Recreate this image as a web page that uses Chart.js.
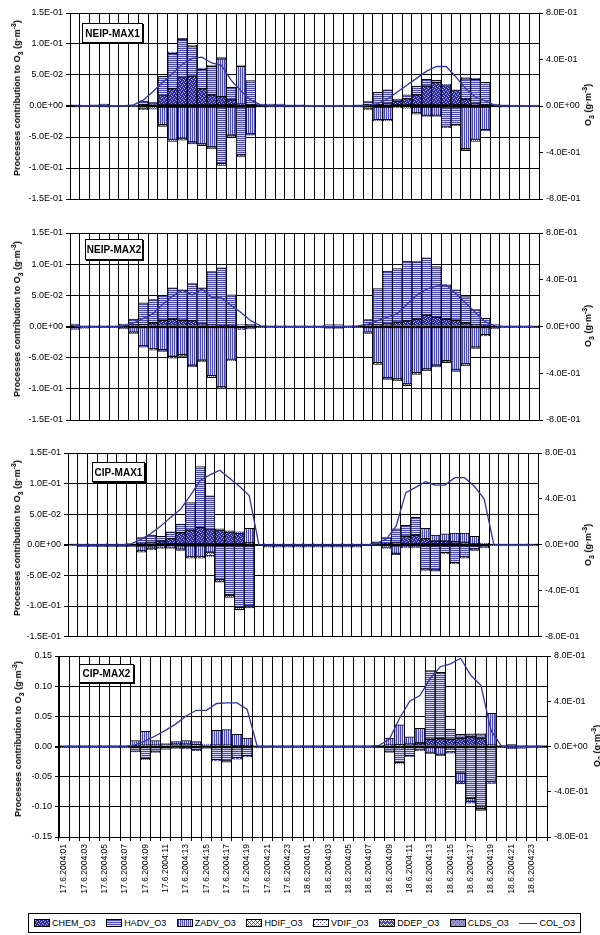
<!DOCTYPE html>
<html>
<head>
<meta charset="utf-8">
<title>O3 process contributions</title>
<script src="https://cdn.jsdelivr.net/npm/chart.js@4.4.0/dist/chart.umd.min.js"></script>
<style>
    body { margin: 0; background: #fff; font-family: 'Liberation Sans', Arial, sans-serif; }
    #wrap { position: relative; width: 600px; height: 935px; overflow: hidden; }
    #wrap canvas { position: absolute; left: 0; }
    .tag {
        position: absolute; background: #fff; border: 1px solid #000; box-shadow: 1px 1px 0 #000;
        font: bold 10px 'Liberation Sans', Arial, sans-serif;
        display: flex; align-items: center; justify-content: center; box-sizing: border-box;
    }
    .ytitle {
        position: absolute; transform: translate(-50%, -50%) rotate(-90deg);
        white-space: nowrap; font: bold 9px 'Liberation Sans', Arial, sans-serif; line-height: 10px;
    }
    .ytitle sub, .ytitle sup { font-size: 7px; line-height: 0; }
    #legend {
        position: absolute; left: 28px; top: 913px; width: 553px; height: 20px; box-sizing: border-box;
        border: 1px solid #000; background: #fff; padding: 0 5px;
        display: flex; align-items: center; justify-content: space-between;
        font: 9px 'Liberation Sans', Arial, sans-serif;
    }
    .item { display: flex; align-items: center; white-space: nowrap; }
    .sw { width: 16px; height: 8px; border: 1px solid #000; box-sizing: border-box; margin-right: 2px; image-rendering: pixelated; }
    .ln { width: 18px; height: 0; border-top: 1.5px solid #3535a5; margin-right: 2px; }
</style>
</head>
<body>
<div id="wrap"></div>
<script>
const hours = [
    '17.6.2004:01', '17.6.2004:02', '17.6.2004:03', '17.6.2004:04', '17.6.2004:05', '17.6.2004:06',
    '17.6.2004:07', '17.6.2004:08', '17.6.2004:09', '17.6.2004:10', '17.6.2004:11', '17.6.2004:12',
    '17.6.2004:13', '17.6.2004:14', '17.6.2004:15', '17.6.2004:16', '17.6.2004:17', '17.6.2004:18',
    '17.6.2004:19', '17.6.2004:20', '17.6.2004:21', '17.6.2004:22', '17.6.2004:23', '18.6.2004:00',
    '18.6.2004:01', '18.6.2004:02', '18.6.2004:03', '18.6.2004:04', '18.6.2004:05', '18.6.2004:06',
    '18.6.2004:07', '18.6.2004:08', '18.6.2004:09', '18.6.2004:10', '18.6.2004:11', '18.6.2004:12',
    '18.6.2004:13', '18.6.2004:14', '18.6.2004:15', '18.6.2004:16', '18.6.2004:17', '18.6.2004:18',
    '18.6.2004:19', '18.6.2004:20', '18.6.2004:21', '18.6.2004:22', '18.6.2004:23', '19.6.2004:00'
];

const seriesNames = ['CHEM_O3', 'HADV_O3', 'ZADV_O3', 'HDIF_O3', 'VDIF_O3', 'DDEP_O3', 'CLDS_O3'];
const lineName = 'COL_O3';
const leftTicks = [-0.15, -0.10, -0.05, 0, 0.05, 0.10, 0.15];
const rightTicks = [-0.8, -0.4, 0, 0.4, 0.8];

// NEIP-MAX1
const neip1Chem = [0, 0, 0.001, 0.001, 0, 0, 0, 0.002, 0.004, 0.017, 0.028, 0.046,
    0.048, 0.028, 0.018, 0.015, 0.010, 0.003, 0, 0.001, 0, 0, 0, 0,
    0, 0, 0, 0, 0, 0, 0.002, 0.002, 0.004, 0.008, 0.012, 0.018,
    0.032, 0.038, 0.033, 0.026, 0.011, 0.004, 0.002, 0.001, 0, 0, 0, 0];
const neip1Hadv = [0.002, 0.001, 0.001, 0.002, 0.001, 0.001, 0.001, 0.006, 0.002, 0.031, 0.057, 0.061,
    0.048, 0.031, 0.046, -0.093, 0.020, -0.079, 0.041, 0.002, 0.003, 0.003, 0.002, 0.002,
    0.001, 0.001, 0.001, 0.001, 0.001, 0.002, 0.005, 0.020, 0.022, 0.003, 0.006, 0.014,
    0.011, 0.004, -0.033, -0.030, 0.033, 0.039, 0.036, 0.002, 0.002, 0.001, 0.001, 0.001];
const neip1Zadv = [-0.002, -0.001, -0.001, -0.002, -0.001, -0.001, -0.001, -0.004, -0.003, -0.030, -0.054, -0.052,
    -0.058, -0.061, -0.066, 0.061, -0.047, 0.061, -0.045, -0.002, -0.002, -0.002, -0.002, -0.001,
    -0.001, -0.001, -0.001, -0.001, -0.001, -0.002, -0.004, -0.022, -0.022, -0.002, -0.003, -0.011,
    -0.015, -0.015, 0.002, 0, -0.069, -0.054, -0.038, -0.002, -0.002, -0.001, -0.001, -0.001];
const neip1Hdif = [0, 0, 0, 0, 0, 0, 0, 0, 0, 0, 0, 0,
    0, 0, 0, 0, 0, 0, 0, 0, 0, 0, 0, 0,
    0, 0, 0, 0, 0, 0, 0, 0, 0, 0, 0, 0,
    0, 0, 0, 0, 0, 0, 0, 0, 0, 0, 0, 0];
const neip1Vdif = [0, 0, 0, 0, 0, 0, 0, 0, 0, 0, 0, 0,
    0, 0, 0, 0, 0, 0, 0, 0, 0, 0, 0, 0,
    0, 0, 0, 0, 0, 0, 0, 0, 0, 0, 0, 0,
    0, 0, 0, 0, 0, 0, 0, 0, 0, 0, 0, 0];
const neip1Ddep = [0, 0, 0, 0, 0, 0, 0, -0.002, -0.002, -0.003, -0.003, -0.003,
    -0.003, -0.003, -0.003, -0.003, -0.003, -0.003, -0.002, 0, 0, 0, 0, 0,
    0, 0, 0, 0, 0, 0, -0.002, -0.002, -0.002, -0.001, -0.001, -0.002,
    -0.002, -0.002, -0.002, -0.002, -0.003, -0.003, -0.002, 0, 0, 0, 0, 0];
const neip1Clds = [0, 0, 0, 0, 0, 0, 0, 0, 0, 0, 0.002, 0.002,
    0.002, 0.002, 0.002, 0.002, 0, 0.002, 0, 0, 0, 0, 0, 0,
    0, 0, 0, 0, 0, 0, 0, 0, 0, 0, 0, 0,
    0, 0, 0, 0, 0.002, 0.002, 0, 0, 0, 0, 0, 0];
const neip1Col = [0, 0, 0, 0, 0, 0, 0.01, 0.05, 0.125, 0.205, 0.28, 0.36,
    0.41, 0.42, 0.37, 0.35, 0.22, 0.13, 0.05, 0.01, 0, 0, 0, 0,
    0, 0, 0, 0, 0, 0, 0.005, 0.02, 0.06, 0.12, 0.18, 0.24,
    0.30, 0.34, 0.34, 0.25, 0.15, 0.075, 0.045, 0.005, 0, 0, 0, 0];

// NEIP-MAX2
const neip2Chem = [0.001, 0, 0, 0, 0, 0, 0.002, 0.003, 0.006, 0.010, 0.012, 0.010,
    0.009, 0.004, 0.002, 0.001, 0.001, 0, 0, 0, 0, 0, 0, 0,
    0, 0, 0, 0, 0, 0, 0.002, 0.002, 0.004, 0.007, 0.009, 0.012,
    0.018, 0.015, 0.012, 0.010, 0.006, 0.002, 0.001, 0, 0, 0, 0, 0];
const neip2Hadv = [0.003, 0.002, 0.001, 0.001, 0.002, 0.004, 0.010, 0.035, 0.037, 0.040, 0.050, 0.049,
    0.060, 0.058, 0.086, 0.093, 0.050, 0.003, 0.004, 0.002, 0.001, 0.001, 0.001, 0.001,
    0.001, 0.002, 0.003, 0.003, 0.002, 0.002, 0.009, 0.059, 0.085, 0.086, 0.096, 0.092,
    0.092, 0.081, 0.055, 0.049, 0.042, 0.025, 0.012, 0.003, 0.002, 0.002, 0.001, 0.001];
const neip2Zadv = [-0.004, -0.002, -0.001, -0.001, -0.002, -0.003, -0.009, -0.031, -0.036, -0.037, -0.048, -0.045,
    -0.062, -0.054, -0.079, -0.097, -0.053, -0.004, -0.003, -0.002, -0.001, -0.001, -0.001, -0.001,
    -0.001, -0.002, -0.003, -0.003, -0.002, -0.002, -0.009, -0.058, -0.082, -0.084, -0.092, -0.074,
    -0.068, -0.062, -0.055, -0.069, -0.060, -0.033, -0.013, -0.003, -0.002, -0.002, -0.001, -0.001];
const neip2Hdif = [0, 0, 0, 0, 0, 0, 0, 0, 0, 0, 0, 0,
    0, 0, 0, 0, 0, 0, 0, 0, 0, 0, 0, 0,
    0, 0, 0, 0, 0, 0, 0, 0, 0, 0, 0, 0,
    0, 0, 0, 0, 0, 0, 0, 0, 0, 0, 0, 0];
const neip2Vdif = [0, 0, 0, 0, 0, 0, 0, 0, 0, 0, 0, 0,
    0, 0, 0, 0, 0, 0, 0, 0, 0, 0, 0, 0,
    0, 0, 0, 0, 0, 0, 0, 0, 0, 0, 0, 0,
    0, 0, 0, 0, 0, 0, 0, 0, 0, 0, 0, 0];
const neip2Ddep = [-0.001, -0.001, 0, 0, 0, -0.001, -0.002, -0.002, -0.002, -0.003, -0.003, -0.003,
    -0.003, -0.003, -0.003, -0.003, -0.002, -0.001, -0.001, 0, 0, 0, 0, 0,
    0, 0, 0, 0, 0, 0, -0.002, -0.003, -0.003, -0.003, -0.003, -0.003,
    -0.003, -0.003, -0.003, -0.003, -0.003, -0.002, -0.002, -0.001, 0, 0, 0, 0];
const neip2Clds = [0, 0, 0, 0, 0, 0, 0, 0, 0, 0, 0, 0,
    0, 0, 0, 0, 0, 0, 0, 0, 0, 0, 0, 0,
    0, 0, 0, 0, 0, 0, 0, 0, 0, 0, 0, 0,
    0, 0, 0, 0, 0, 0, 0, 0, 0, 0, 0, 0];
const neip2Col = [0, 0, 0, 0, 0, 0.005, 0.03, 0.07, 0.11, 0.19, 0.26, 0.31,
    0.27, 0.32, 0.25, 0.245, 0.18, 0.12, 0.05, 0.005, 0, 0, 0, 0,
    0, 0, 0, 0, 0, 0.005, 0.02, 0.05, 0.08, 0.11, 0.19, 0.27,
    0.32, 0.345, 0.355, 0.28, 0.20, 0.12, 0.04, 0.005, 0, 0, 0, 0];

// CIP-MAX1
const cip1Chem = [0, 0, 0, 0, 0, 0, 0, 0.002, 0.004, 0.006, 0.010, 0.020,
    0.024, 0.028, 0.025, 0.024, 0.021, 0.019, 0.003, 0, 0, 0, 0, 0,
    0, 0, 0, 0, 0, 0, 0, 0.001, 0.002, 0.004, 0.014, 0.016,
    0.010, 0.006, 0.006, 0.005, 0.004, 0.002, 0.001, 0, 0, 0, 0, 0];
const cip1Hadv = [0.001, 0.002, 0.002, 0.002, 0.002, 0.002, 0.002, 0.010, 0.012, 0.008, 0.011, 0.014,
    0.045, 0.100, 0.055, -0.057, -0.082, -0.102, -0.100, 0, 0.002, 0.002, 0.002, 0.002,
    0.002, 0.002, 0.002, 0.002, 0.002, 0.002, 0.002, 0.004, 0.010, 0.022, 0.018, 0.029,
    -0.040, -0.041, -0.013, -0.029, -0.020, -0.007, -0.004, 0.001, 0.001, 0.001, 0.001, 0.001];
const cip1Zadv = [-0.001, -0.002, -0.002, -0.002, -0.002, -0.002, -0.002, -0.010, -0.006, -0.004, -0.004, -0.007,
    -0.020, -0.020, -0.012, 0.002, 0.002, 0.002, 0.024, 0, -0.003, -0.003, -0.003, -0.003,
    -0.003, -0.003, -0.003, -0.003, -0.003, -0.003, -0.002, -0.002, -0.005, -0.014, -0.003, -0.003,
    0.017, 0.010, 0.012, 0.014, 0.015, 0.012, 0.002, -0.001, -0.001, -0.001, -0.001, -0.001];
const cip1Hdif = [0, 0, 0, 0, 0, 0, 0, 0, 0, 0, 0, 0,
    0, 0, -0.006, 0, 0, 0, 0, 0, 0, 0, 0, 0,
    0, 0, 0, 0, 0, 0, 0, 0, 0, 0, 0, 0,
    0, 0, 0, 0, 0, 0, 0, 0, 0, 0, 0, 0];
const cip1Vdif = [0, 0, 0, 0, 0, 0, 0, 0, 0, 0, 0, 0,
    0, 0, 0, 0, 0, 0, 0, 0, 0, 0, 0, 0,
    0, 0, 0, 0, 0, 0, 0, 0, 0, 0, 0, 0,
    0, 0, 0, 0, 0, 0, 0, 0, 0, 0, 0, 0];
const cip1Ddep = [0, -0.001, -0.001, -0.001, -0.001, -0.001, -0.001, -0.002, -0.002, -0.002, -0.002, -0.002,
    -0.002, -0.002, -0.002, -0.004, -0.004, -0.004, -0.003, 0, -0.001, -0.001, -0.001, -0.001,
    -0.001, -0.001, -0.001, -0.001, -0.001, -0.001, 0, 0, -0.001, -0.002, -0.002, -0.002,
    -0.002, -0.002, -0.002, -0.002, -0.002, -0.002, -0.001, 0, 0, 0, 0, 0];
const cip1Clds = [0, 0, 0, 0, 0, 0, 0, 0, 0, 0, 0, 0,
    0, 0, 0, 0, 0, 0, 0, 0, 0, 0, 0, 0,
    0, 0, 0, 0, 0, 0, 0, 0, 0, 0, 0, 0,
    0, 0, 0, 0, 0, 0, 0, 0, 0, 0, 0, 0];
const cip1Col = [0, 0, 0, 0, 0, 0, 0.01, 0.05, 0.10, 0.165, 0.24, 0.31,
    0.43, 0.56, 0.61, 0.65, 0.58, 0.51, 0.43, 0, 0, 0, 0, 0,
    0, 0, 0, 0, 0, 0, 0, 0.01, 0.05, 0.16, 0.455, 0.50,
    0.55, 0.52, 0.52, 0.585, 0.585, 0.51, 0.40, 0, 0, 0, 0, 0];

// CIP-MAX2
const cip2Chem = [0, 0, 0, 0, 0, 0, 0, 0.001, 0.002, 0.002, 0.003, 0.004,
    0.004, 0.003, 0.002, 0.002, 0.002, 0.001, 0.001, 0, 0, 0, 0, 0,
    0, 0, 0, 0, 0, 0, 0, 0.001, 0.002, 0.003, 0.004, 0.006,
    0.012, 0.013, 0.012, 0.014, 0.016, 0.014, 0.002, 0, 0.001, 0, 0, 0];
const cip2Hadv = [0.001, 0.001, 0.001, 0.001, 0.001, 0.001, 0.001, -0.008, -0.020, -0.008, -0.004, -0.002,
    -0.003, -0.006, -0.002, -0.022, -0.024, -0.019, -0.015, 0.001, 0.001, 0.001, 0.001, 0.001,
    0.001, 0.001, 0.001, 0.001, 0.001, 0.001, 0.001, -0.001, -0.008, -0.027, -0.015, -0.005,
    0.114, 0.110, 0.017, -0.044, -0.086, -0.100, -0.058, 0.001, 0.002, 0.002, 0.001, 0.001];
const cip2Zadv = [-0.001, -0.001, -0.001, -0.001, -0.001, -0.001, -0.001, 0.009, 0.023, 0.008, 0.002, 0.004,
    0.006, 0.005, 0.002, 0.025, 0.026, 0.019, 0.013, -0.001, -0.001, -0.001, -0.001, -0.001,
    -0.001, -0.001, -0.001, -0.001, -0.001, -0.001, -0.001, 0.001, 0.012, 0.033, 0.012, 0.024,
    -0.010, -0.013, -0.004, -0.014, -0.005, -0.003, 0.053, -0.001, -0.003, -0.002, -0.001, -0.001];
const cip2Hdif = [0, 0, 0, 0, 0, 0, 0, 0, 0, 0, 0, 0,
    0, 0, 0, 0, 0, 0, 0, 0, 0, 0, 0, 0,
    0, 0, 0, 0, 0, 0, 0, 0, 0, 0, 0, 0,
    0, 0, 0, 0, 0, 0, 0, 0, 0, 0, 0, 0];
const cip2Vdif = [0, 0, 0, 0, 0, 0, 0, 0, 0, 0, 0, 0,
    0, 0, 0, 0, 0, 0, 0, 0, 0, 0, 0, 0,
    0, 0, 0, 0, 0, 0, 0, 0, 0, 0, 0, 0,
    0, 0, -0.005, 0, 0, 0, 0, 0, 0, 0, 0, 0];
const cip2Ddep = [0, 0, 0, 0, 0, 0, 0, -0.001, -0.002, -0.002, -0.001, -0.001,
    -0.001, -0.001, -0.001, -0.002, -0.002, -0.002, -0.002, 0, 0, 0, 0, 0,
    0, 0, 0, 0, 0, 0, 0, 0, -0.002, -0.002, -0.002, -0.002,
    -0.002, -0.002, -0.002, -0.004, -0.003, -0.003, -0.003, 0, -0.001, -0.001, 0, 0];
const cip2Clds = [0, 0, 0, 0, 0, 0, 0, 0, 0, 0, 0, 0,
    0, 0, 0, 0, 0, 0, 0, 0, 0, 0, 0, 0,
    0, 0, 0, 0, 0, 0, 0, 0, 0, 0, 0, 0,
    0, 0, 0, 0.006, 0.005, 0.007, 0, 0, 0, 0, 0, 0];
const cip2Col = [0, 0, 0, 0, 0, 0, 0, 0.015, 0.05, 0.095, 0.145, 0.20,
    0.27, 0.32, 0.32, 0.38, 0.385, 0.385, 0.33, 0, 0, 0, 0, 0,
    0, 0, 0, 0, 0, 0, 0, 0.01, 0.065, 0.25, 0.40, 0.45,
    0.60, 0.705, 0.73, 0.78, 0.63, 0.54, 0.14, 0.005, 0, 0, 0, 0];

const FONT = "'Liberation Sans', Arial, sans-serif";
const LINE_COLOR = '#3535a5';

document.addEventListener('DOMContentLoaded', () => {
    Chart.defaults.font.family = FONT;
    Chart.defaults.font.size = 9;
    Chart.defaults.color = '#000';

    const tiles = makeTiles();
    const panels = [
        { name: 'NEIP-MAX1', top: 13, bottom: 199, left: 70, right: 539, canvasTop: 0, canvasH: 212,
          tag: [82, 23, 61, 20], titleX: 17, rightTitleX: 588,
          bars: [neip1Chem, neip1Hadv, neip1Zadv, neip1Hdif, neip1Vdif, neip1Ddep, neip1Clds], col: neip1Col },
        { name: 'NEIP-MAX2', top: 233, bottom: 420, left: 70, right: 539, canvasTop: 220, canvasH: 212,
          tag: [85, 239, 58, 21], titleX: 17, rightTitleX: 588,
          bars: [neip2Chem, neip2Hadv, neip2Zadv, neip2Hdif, neip2Vdif, neip2Ddep, neip2Clds], col: neip2Col },
        { name: 'CIP-MAX1', top: 453, bottom: 638, left: 68, right: 538, canvasTop: 440, canvasH: 205,
          tag: [92, 462, 53, 20], titleX: 17, rightTitleX: 588,
          bars: [cip1Chem, cip1Hadv, cip1Zadv, cip1Hdif, cip1Vdif, cip1Ddep, cip1Clds], col: cip1Col },
        { name: 'CIP-MAX2', top: 656, bottom: 837, left: 59, right: 547, canvasTop: 643, canvasH: 265,
          tag: [79, 664, 55, 19], titleX: 18, rightTitleX: 597, last: true,
          bars: [cip2Chem, cip2Hadv, cip2Zadv, cip2Hdif, cip2Vdif, cip2Ddep, cip2Clds], col: cip2Col }
    ];

    const wrap = document.getElementById('wrap');
    panels.forEach(p => drawPanel(wrap, p, tiles));
    drawLegend(wrap, tiles);
});

function tile(w, h, bg, fg, pts) {
    const c = document.createElement('canvas');
    c.width = w;
    c.height = h;
    const x = c.getContext('2d');
    x.fillStyle = bg;
    x.fillRect(0, 0, w, h);
    x.fillStyle = fg;
    pts.forEach(([a, b]) => x.fillRect(a, b, 1, 1));
    return c;
}

function makeTiles() {
    const stripe = '#4c4cb0';
    const gap = '#d4d4f2';
    return [
        tile(4, 4, '#2c2c96', '#a8a8e4', [[0, 0], [2, 1], [1, 2], [3, 3]]),           // CHEM
        tile(2, 2, gap, stripe, [[0, 0], [1, 0]]),                                     // HADV
        tile(2, 2, gap, stripe, [[0, 0], [0, 1]]),                                     // ZADV
        tile(4, 4, '#ffffff', stripe, [[0, 0], [1, 1], [2, 2], [3, 3], [3, 1], [1, 3]]), // HDIF
        tile(4, 4, '#ffffff', stripe, [[0, 0], [2, 2]]),                               // VDIF
        tile(4, 4, stripe, '#ffffff', [[0, 0], [1, 1], [2, 0], [3, 3]]),               // DDEP
        tile(4, 4, '#9494cc', '#4a4aa8', [[0, 0], [2, 2]])                             // CLDS
    ];
}

function sci(v) {
    if (Math.abs(v) < 1e-9) return '0.0E+00';
    const [m, e] = v.toExponential(1).split('e');
    const n = parseInt(e, 10);
    return m + 'E' + (n < 0 ? '-' : '+') + String(Math.abs(n)).padStart(2, '0');
}

function drawPanel(wrap, p, tiles) {
    const canvas = document.createElement('canvas');
    canvas.width = 600;
    canvas.height = p.canvasH;
    canvas.style.top = p.canvasTop + 'px';
    wrap.appendChild(canvas);

    const xHeight = p.last ? 68 : 0;
    const padTop = p.top - p.canvasTop;
    const padBottom = p.canvasTop + p.canvasH - p.bottom - xHeight;
    const ctx = canvas.getContext('2d');

    const datasets = seriesNames.map((name, i) => ({
        label: name,
        data: p.bars[i],
        backgroundColor: ctx.createPattern(tiles[i], 'repeat'),
        borderColor: '#000',
        borderWidth: 1,
        borderSkipped: false,
        barPercentage: 1,
        categoryPercentage: 1,
        yAxisID: 'y',
        order: 1
    }));
    datasets.push({
        type: 'line',
        label: lineName,
        data: p.col,
        yAxisID: 'y2',
        borderColor: LINE_COLOR,
        borderWidth: 1.3,
        pointRadius: 0,
        tension: 0,
        fill: false,
        order: 0
    });

    const leftFormat = p.last ? (v => (Math.abs(v) < 1e-9 ? 0 : v).toFixed(2)) : sci;

    new Chart(canvas, {
        type: 'bar',
        data: { labels: hours, datasets },
        options: {
            responsive: false,
            animation: false,
            events: [],
            layout: { padding: { top: padTop, bottom: padBottom, left: 0, right: 0 } },
            plugins: { legend: { display: false }, tooltip: { enabled: false } },
            scales: {
                x: {
                    stacked: true,
                    grid: { color: '#000', lineWidth: 1, offset: true, drawTicks: !!p.last, tickLength: 4 },
                    border: { color: '#000' },
                    ticks: p.last ? {
                        autoSkip: false, minRotation: 90, maxRotation: 90, padding: 3,
                        font: { size: 8.5 },
                        callback: (v, i) => (i % 2 === 0 ? hours[i] : '')
                    } : { display: false },
                    afterFit: s => { s.height = xHeight; }
                },
                y: {
                    stacked: true,
                    min: leftTicks[0],
                    max: leftTicks[leftTicks.length - 1],
                    afterBuildTicks: s => { s.ticks = leftTicks.map(v => ({ value: v })); },
                    ticks: { callback: leftFormat, padding: 3 },
                    grid: {
                        color: '#000',
                        lineWidth: c => (c.tick && Math.abs(c.tick.value) < 1e-9 ? 2 : 1),
                        tickLength: 4
                    },
                    border: { color: '#000' },
                    afterFit: s => { s.width = p.left; }
                },
                y2: {
                    position: 'right',
                    min: rightTicks[0],
                    max: rightTicks[rightTicks.length - 1],
                    afterBuildTicks: s => { s.ticks = rightTicks.map(v => ({ value: v })); },
                    ticks: { callback: sci, padding: 3 },
                    grid: { drawOnChartArea: false, color: '#000', tickLength: 4 },
                    border: { color: '#000' },
                    afterFit: s => { s.width = 600 - p.right; }
                }
            }
        }
    });

    const tag = document.createElement('div');
    tag.className = 'tag';
    tag.textContent = p.name;
    Object.assign(tag.style, {
        left: p.tag[0] + 'px', top: p.tag[1] + 'px', width: p.tag[2] + 'px', height: p.tag[3] + 'px'
    });
    wrap.appendChild(tag);

    const mid = (p.top + p.bottom) / 2;
    const lt = document.createElement('div');
    lt.className = 'ytitle';
    lt.innerHTML = 'Processes contribution to O<sub>3</sub> (g·m<sup>-3</sup>)';
    lt.style.left = p.titleX + 'px';
    lt.style.top = (mid - 8) + 'px';
    wrap.appendChild(lt);

    const rt = document.createElement('div');
    rt.className = 'ytitle';
    rt.innerHTML = 'O<sub>3</sub> (g·m<sup>-3</sup>)';
    rt.style.left = p.rightTitleX + 'px';
    rt.style.top = (mid - 1) + 'px';
    wrap.appendChild(rt);
}

function drawLegend(wrap, tiles) {
    const legend = document.createElement('div');
    legend.id = 'legend';
    seriesNames.forEach((name, i) => {
        const item = document.createElement('span');
        item.className = 'item';
        const sw = document.createElement('span');
        sw.className = 'sw';
        sw.style.backgroundImage = `url(${tiles[i].toDataURL()})`;
        item.appendChild(sw);
        item.appendChild(document.createTextNode(name));
        legend.appendChild(item);
    });
    const item = document.createElement('span');
    item.className = 'item';
    const ln = document.createElement('span');
    ln.className = 'ln';
    item.appendChild(ln);
    item.appendChild(document.createTextNode(lineName));
    legend.appendChild(item);
    wrap.appendChild(legend);
}
</script>
</body>
</html>
